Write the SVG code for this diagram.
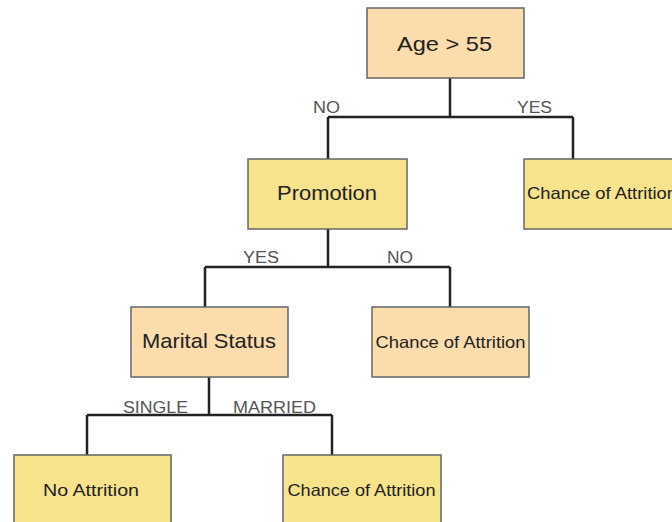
<svg xmlns="http://www.w3.org/2000/svg" width="672" height="522" viewBox="0 0 672 522">
<style>
.box{stroke:#666;stroke-width:1.5}
.peach{fill:#fbdcad}
.yellow{fill:#f6e38b}
.t{font-family:"Liberation Sans",Arial,sans-serif;fill:#222;text-anchor:middle}
.big{font-size:21px}
.small{font-size:16.5px}
.lbl{font-family:"Liberation Sans",Arial,sans-serif;font-size:16px;fill:#555;text-anchor:middle}
.conn{fill:none;stroke:#222;stroke-width:2.5}
</style>
<rect width="672" height="522" fill="#fff"/>
<g id="connectors">
<path class="conn" d="M450 78V117M328 117H573M328 117V159M573 117V159"/>
<path class="conn" d="M328 229V267M205 267H450M205 267V307M450 267V307"/>
<path class="conn" d="M209 377V415M87 415H332M87 415V455M332 415V455"/>
<text class="lbl" x="326.5" y="113" textLength="27" lengthAdjust="spacingAndGlyphs">NO</text>
<text class="lbl" x="534.5" y="113" textLength="35" lengthAdjust="spacingAndGlyphs">YES</text>
<text class="lbl" x="261" y="263" textLength="36" lengthAdjust="spacingAndGlyphs">YES</text>
<text class="lbl" x="400" y="263" textLength="26" lengthAdjust="spacingAndGlyphs">NO</text>
<text class="lbl" x="155.5" y="413" textLength="65" lengthAdjust="spacingAndGlyphs">SINGLE</text>
<text class="lbl" x="274.5" y="413" textLength="83" lengthAdjust="spacingAndGlyphs">MARRIED</text>
</g>
<g id="age">
<rect class="box peach" x="367" y="8" width="157" height="70"/>
<text class="t big" x="444.5" y="51" textLength="95" lengthAdjust="spacingAndGlyphs">Age &gt; 55</text>
</g>
<g id="attrition1">
<rect class="box yellow" x="524" y="159" width="160" height="70"/>
<text class="t small" x="527" y="199" style="text-anchor:start" textLength="150" lengthAdjust="spacingAndGlyphs">Chance of Attrition</text>
</g>
<g id="promotion">
<rect class="box yellow" x="248" y="159" width="159" height="70"/>
<text class="t big" x="327" y="200" textLength="100" lengthAdjust="spacingAndGlyphs">Promotion</text>
</g>
<g id="marital">
<rect class="box peach" x="131" y="307" width="157" height="70"/>
<text class="t big" x="209" y="348" textLength="134" lengthAdjust="spacingAndGlyphs">Marital Status</text>
</g>
<g id="attrition2">
<rect class="box peach" x="372" y="307" width="157" height="70"/>
<text class="t small" x="450.5" y="348" textLength="150" lengthAdjust="spacingAndGlyphs">Chance of Attrition</text>
</g>
<g id="noattrition">
<rect class="box yellow" x="14" y="455" width="157" height="80"/>
<text class="t small" x="91" y="496" textLength="96" lengthAdjust="spacingAndGlyphs">No Attrition</text>
</g>
<g id="attrition3">
<rect class="box yellow" x="283" y="455" width="158" height="80"/>
<text class="t small" x="361.5" y="496" textLength="148" lengthAdjust="spacingAndGlyphs">Chance of Attrition</text>
</g>
</svg>
